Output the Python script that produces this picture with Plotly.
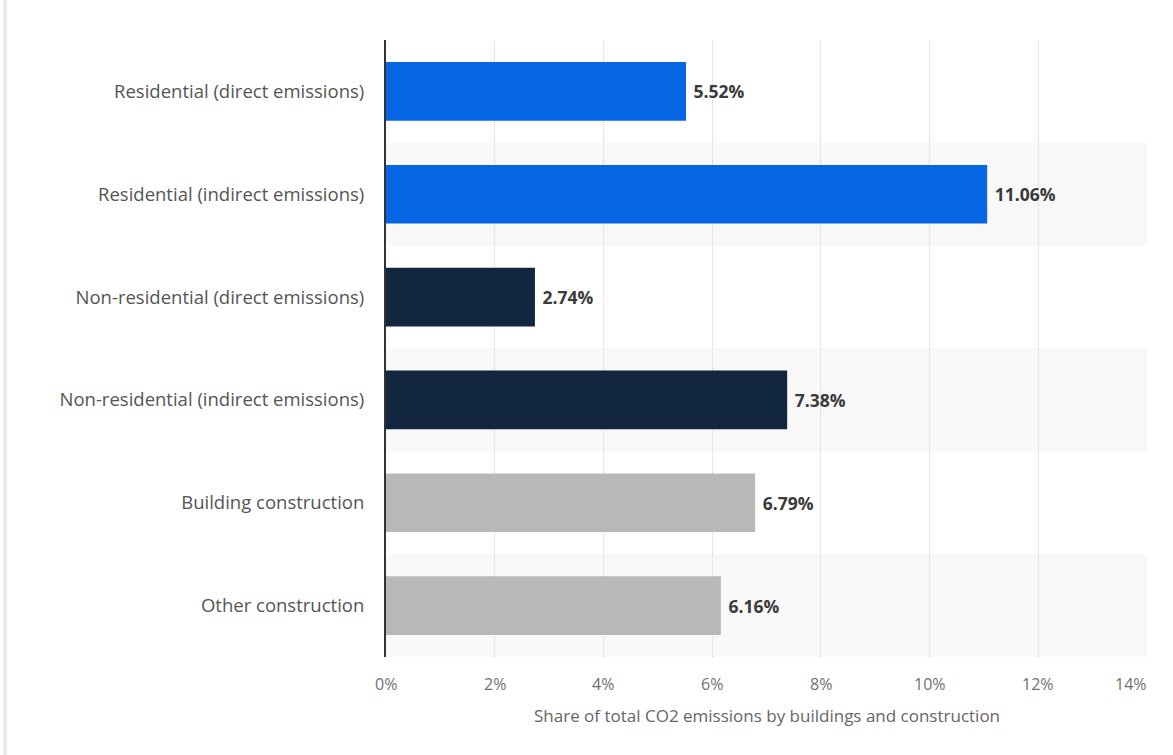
import plotly.graph_objects as go

categories = [
    "Residential (direct emissions)",
    "Residential (indirect emissions)",
    "Non-residential (direct emissions)",
    "Non-residential (indirect emissions)",
    "Building construction",
    "Other construction",
]
values = [5.52, 11.06, 2.74, 7.38, 6.79, 6.16]
bar_colors = ["#0766e3", "#0766e3", "#12263f", "#12263f", "#b8b8b8", "#b8b8b8"]
tick_vals = [0, 2, 4, 6, 8, 10, 12, 14]
tick_text = ["0%", "2%", "4%", "6%", "8%", "10%", "12%", "14%"]
x_title = "Share of total CO2 emissions by buildings and construction"

font_family = "Open Sans, DejaVu Sans, sans-serif"

fig = go.Figure()
fig.add_trace(go.Bar(
    x=values,
    y=categories,
    orientation="h",
    marker=dict(color=bar_colors, line=dict(width=0)),
    text=["\u00a0" + f"{v:.2f}%" for v in values],
    textposition="outside",
    textfont=dict(family=font_family, size=17.5, color="#3a3a3a", weight="bold"),
    cliponaxis=False,
    hoverinfo="skip",
))

shapes = []
for i, c in enumerate(categories):
    if i % 2 == 1:
        shapes.append(dict(
            type="rect", xref="paper", yref="y",
            x0=0, x1=1, y0=i - 0.5, y1=i + 0.5,
            fillcolor="#f8f8f8", line=dict(width=0), layer="below",
        ))
# page left border strip
shapes.append(dict(type="rect", xref="paper", yref="paper",
                   x0=(3 - 386) / 761, x1=(7 - 386) / 761, y0=-98 / 617, y1=(617 + 40) / 617,
                   fillcolor="#ebebeb", line=dict(width=0), layer="below"))

annotations = []
for k, (tv, tt) in enumerate(zip(tick_vals, tick_text)):
    last = k == len(tick_vals) - 1
    annotations.append(dict(
        x=tv, xref="x", y=0, yref="paper",
        text=tt, showarrow=False,
        xanchor="right" if last else "center",
        xshift=2 if last else 0,
        yanchor="middle", yshift=-27,
        font=dict(family=font_family, size=16, color="#707070"),
    ))
annotations.append(dict(
    x=0.5, xref="paper", y=0, yref="paper",
    text=x_title, showarrow=False,
    xanchor="center", yanchor="middle", yshift=-58,
    font=dict(family=font_family, size=17, color="#666666"),
))

fig.update_layout(
    width=1173, height=755,
    margin=dict(l=386, r=26, t=40, b=98),
    paper_bgcolor="white",
    plot_bgcolor="white",
    showlegend=False,
    bargap=0.43,
    shapes=shapes,
    annotations=annotations,
    font=dict(family=font_family),
    xaxis=dict(
        range=[0, 14],
        tickvals=tick_vals,
        showticklabels=False,
        showgrid=True,
        gridcolor="#d0d0d0",
        griddash="1px,1px",
        gridwidth=1,
        zeroline=False,
        showline=False,
        ticks="",
        fixedrange=True,
    ),
    yaxis=dict(
        categoryorder="array",
        categoryarray=categories,
        autorange="reversed",
        tickfont=dict(size=18.5, color="#555555"),
        showgrid=False,
        showline=True,
        linecolor="#333333",
        linewidth=2,
        ticks="",
        ticklabelstandoff=16,
        fixedrange=True,
    ),
)

fig.write_html("out.html")
